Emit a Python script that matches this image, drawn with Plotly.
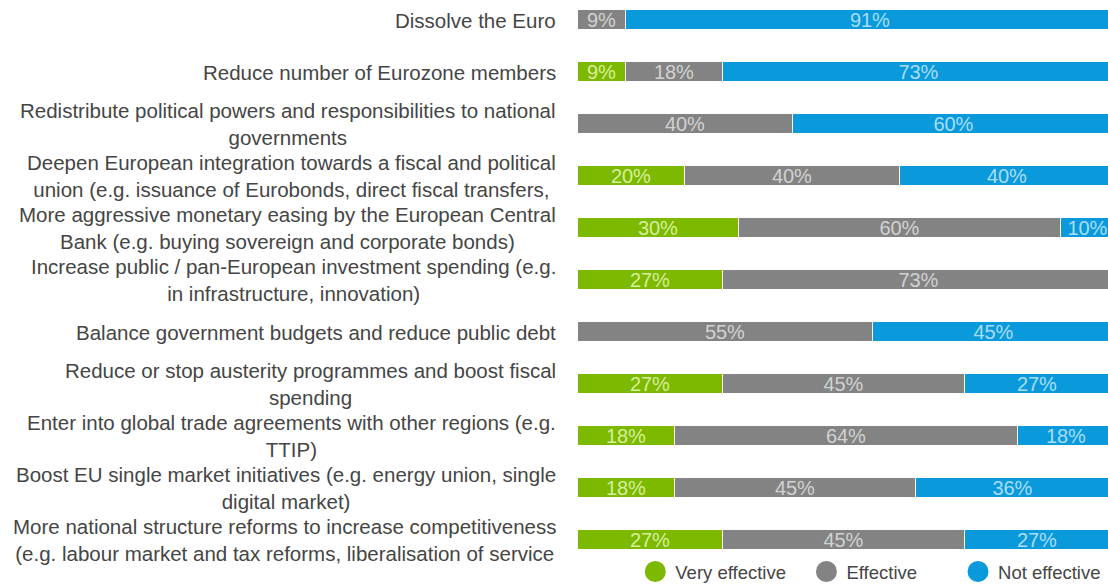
import plotly.graph_objects as go

# Survey: perceived effectiveness of policy options for the Eurozone (% of respondents)
categories = [
    "Dissolve the Euro",
    "Reduce number of Eurozone members",
    "Redistribute political powers and responsibilities to national<br>governments",
    "Deepen European integration towards a fiscal and political<br>union (e.g. issuance of Eurobonds, direct fiscal transfers,",
    "More aggressive monetary easing by the European Central<br>Bank (e.g. buying sovereign and corporate bonds)",
    "Increase public / pan-European investment spending (e.g.<br>in infrastructure, innovation)",
    "Balance government budgets and reduce public debt",
    "Reduce or stop austerity programmes and boost fiscal<br>spending",
    "Enter into global trade agreements with other regions (e.g.<br>TTIP)",
    "Boost EU single market initiatives (e.g. energy union, single<br>digital market)",
    "More national structure reforms to increase competitiveness<br>(e.g. labour market and tax reforms, liberalisation of service",
]
very_effective = [0, 9, 0, 20, 30, 27, 0, 27, 18, 18, 27]
effective = [9, 18, 40, 40, 60, 73, 55, 45, 64, 45, 45]
not_effective = [91, 73, 60, 40, 10, 0, 45, 27, 18, 36, 27]

NBSP = "\u00a0"
series = [
    # name, values, bar colour, label colour, legend padding (non-breaking spaces)
    ("Very effective", very_effective, "#7DB900", "#D6EE9E", 3),
    ("Effective", effective, "#838383", "#D2D2D2", 7),
    ("Not effective", not_effective, "#0A9ADB", "#A9DDF6", 0),
]

rows = list(range(len(categories)))
FONT = "Liberation Sans, Arial, sans-serif"

fig = go.Figure()
for name, values, color, text_color, pad in series:
    fig.add_trace(go.Bar(
        y=rows,
        x=values,
        orientation="h",
        name=name,
        width=0.37,
        marker=dict(color=color, line=dict(color="white", width=1)),
        text=[f"{v}%" if v else "" for v in values],
        textposition="inside",
        insidetextanchor="middle",
        textangle=0,
        insidetextfont=dict(family=FONT, size=20, color=text_color),
        constraintext="none",
        showlegend=False,
        hoverinfo="skip",
    ))
    # Round legend swatches
    fig.add_trace(go.Scatter(
        x=[None], y=[None], mode="markers", name=name + NBSP * pad,
        marker=dict(symbol="circle", size=16, color=color,
                    line=dict(color=color, width=5)),
        showlegend=True,
    ))

for i, label in enumerate(categories):
    fig.add_annotation(
        x=0, xref="paper", y=i, yref="y",
        text=label, showarrow=False,
        xanchor="right", yanchor="middle", align="center",
        xshift=-20,
        font=dict(family=FONT, size=20.5, color="#454545"),
    )

fig.update_layout(
    width=1108, height=585,
    margin=dict(l=578, r=0, t=0, b=25, autoexpand=False),
    paper_bgcolor="white", plot_bgcolor="white",
    barmode="stack",
    bargap=0,
    xaxis=dict(range=[0, 98.7], visible=False, fixedrange=True),
    yaxis=dict(range=[10.385, -0.385], visible=False, fixedrange=True),
    legend=dict(
        orientation="h",
        x=0.1081, xanchor="left",
        y=-0.0214, yanchor="middle",
        font=dict(family=FONT, size=18.5, color="#454545"),
        itemsizing="trace",
        traceorder="normal",
        bgcolor="rgba(0,0,0,0)",
    ),
    showlegend=True,
)

fig.write_html("out.html")
